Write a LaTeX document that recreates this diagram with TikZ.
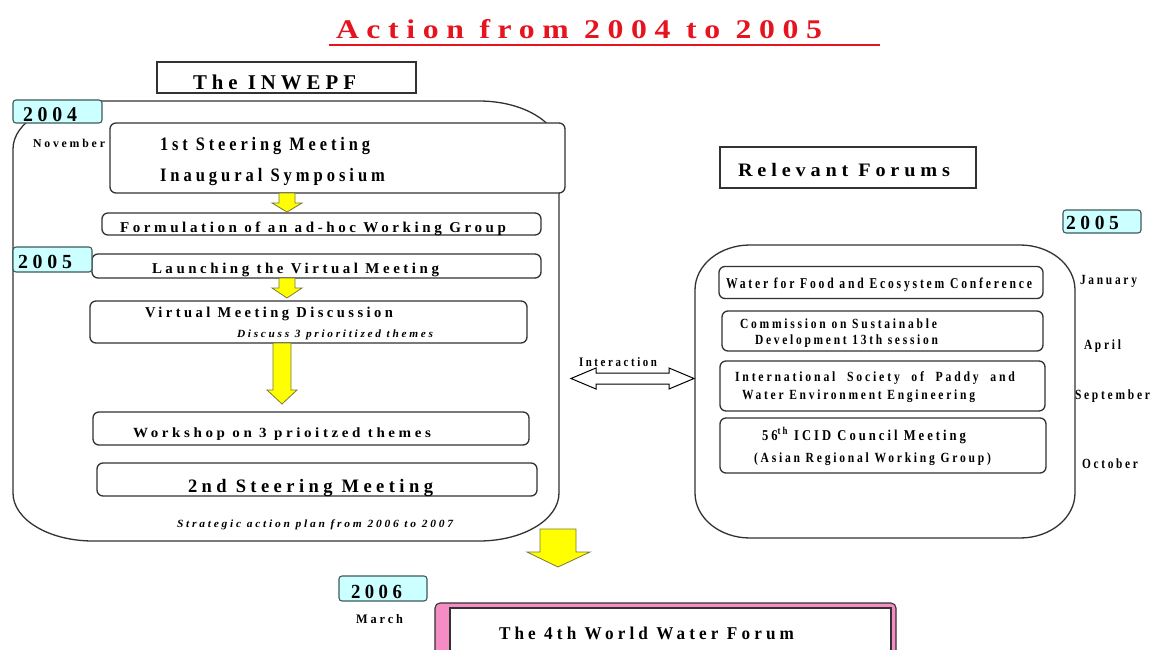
\documentclass[tikz,border=0pt]{standalone}
\usepackage{fontspec}
\usepackage{graphicx}
\setmainfont{Liberation Serif}
\newfontfamily\lsf{Liberation Serif}[LetterSpace=24]
\definecolor{lc}{RGB}{50,50,50}
\definecolor{tred}{RGB}{230,20,30}
\definecolor{cyl}{RGB}{204,255,255}
\definecolor{cyb}{RGB}{60,90,90}
\definecolor{yel}{RGB}{255,255,0}
\definecolor{yelb}{RGB}{120,120,60}
\definecolor{pinkf}{RGB}{245,140,195}
\newsavebox\fitbox
\makeatletter
\newcommand\fitw[2]{\sbox\fitbox{#2}\edef\fitratio{\strip@pt\dimexpr 1pt*\number\dimexpr#1pt\relax/\number\wd\fitbox\relax}\scalebox{\fitratio}[1]{\usebox\fitbox}}
\makeatother
\newcommand\tlab[6]{\node[tx,font=\lsf\bfseries\fontsize{#5}{#5}\selectfont] (#1) at (#2,#3) {\fitw{#4}{#6}};}
\begin{document}
\begin{tikzpicture}[x=1pt,y=-1pt,
  tx/.style={anchor=base west, inner sep=0pt, outer sep=0pt, text=black},
  rbox/.style={draw=lc, rounded corners=6pt, line width=1.3pt, fill=white, inner sep=0pt},
  sqbox/.style={draw=lc, line width=1.1pt, fill=white, inner sep=0pt},
  yrbox/.style={draw=cyb, fill=cyl, rounded corners=3pt, line width=1.1pt, inner sep=0pt},
  big/.style={draw=lc, line width=1.3pt},
  yarrow/.style={draw=yelb, fill=yel, line width=0.8pt, line join=miter},
  darrow/.style={draw=black, fill=white, line width=1pt, line join=miter}]
\useasboundingbox[fill=white] (0,0) rectangle (1157,650);

% title
\tlab{title}{336}{39}{486}{27}{\color{tred}Action from 2004 to 2005}
\draw[tred, line width=2.5pt] (329,45) -- (880,45);

% header boxes
\node[sqbox, minimum width=259pt, minimum height=31pt] (inw) at (286.5,77.5) {};
\tlab{tinw}{193}{90}{163}{21}{The INWEPF}
\node[sqbox, minimum width=256pt, minimum height=41pt] (rf) at (848,167.5) {};
\tlab{trf}{738}{177}{212}{19}{Relevant Forums}

% left big box
\draw[big] (93,101) -- (479,101) .. controls (523.2,101) and (559,122.5) .. (559,149)
  -- (559,493) .. controls (559,519.5) and (523.2,541) .. (479,541)
  -- (93,541) .. controls (48.8,541) and (13,519.5) .. (13,493)
  -- (13,149) .. controls (13,122.5) and (48.8,101) .. (93,101) -- cycle;

% right big box
\draw[big] (750,245) -- (1020,245) .. controls (1050.4,245) and (1075,265.1) .. (1075,290)
  -- (1075,493) .. controls (1075,517.9) and (1050.4,538) .. (1020,538)
  -- (750,538) .. controls (719.6,538) and (695,517.9) .. (695,493)
  -- (695,290) .. controls (695,265.1) and (719.6,245) .. (750,245) -- cycle;

% left inner boxes
\node[rbox, minimum width=455pt, minimum height=70pt] (b1) at (337.5,158) {};
\node[rbox, minimum width=439pt, minimum height=22pt] (b2) at (321.5,224) {};
\node[rbox, minimum width=449pt, minimum height=24pt] (b3) at (316.5,266) {};
\node[rbox, minimum width=437pt, minimum height=42pt] (b4) at (308.5,322) {};
\node[rbox, minimum width=436pt, minimum height=33pt] (b5) at (311,428.5) {};
\node[rbox, minimum width=440pt, minimum height=33pt] (b6) at (317,479.5) {};

% year labels
\node[yrbox, minimum width=89pt, minimum height=23pt] (y04) at (57.5,111.5) {};
\node[yrbox, minimum width=79pt, minimum height=25pt] (y05) at (52.5,259.5) {};
\node[yrbox, minimum width=78pt, minimum height=23pt] (y05r) at (1102,221.5) {};
\node[yrbox, minimum width=88pt, minimum height=25pt] (y06) at (383,588.5) {};

\tlab{t04}{23}{122}{54}{21}{2004}
\tlab{t05}{18}{268}{54}{20}{2005}
\tlab{t05r}{1066}{229}{53}{20}{2005}
\tlab{t06}{351}{598}{51}{20}{2006}

% left texts
\tlab{tnov}{33}{148}{72}{12}{November}
\tlab{t1a}{160}{150}{210}{19}{1st Steering Meeting}
\tlab{t1b}{160}{182}{225}{19}{Inaugural Symposium}
\tlab{t2}{120}{233}{386}{15}{Formulation of an ad-hoc Working Group}
\tlab{t3}{152}{273}{287}{15}{Launching the Virtual Meeting}
\tlab{t4a}{145}{317}{248}{15}{Virtual Meeting Discussion}
\tlab{t4b}{237}{337}{196}{11}{\itshape Discuss 3 prioritized themes}
\tlab{t5}{133}{437}{298}{14}{Workshop on 3 prioitzed themes}
\tlab{t6}{188}{492}{245}{19}{2nd Steering Meeting}
\tlab{t7}{177}{527}{276}{11}{\itshape Strategic action plan from 2006 to 2007}

% yellow arrows
\draw[yarrow] (279,193) -- (295,193) -- (295,203) -- (302,203) -- (287,212) -- (272,203) -- (279,203) -- cycle;
\draw[yarrow] (279,278) -- (295,278) -- (295,288) -- (302,288) -- (287,298) -- (272,288) -- (279,288) -- cycle;
\draw[yarrow] (273,343) -- (291,343) -- (291,390) -- (297,390) -- (282,404) -- (267,390) -- (273,390) -- cycle;
\draw[yarrow] (540,529) -- (576,529) -- (576,552) -- (590,552) -- (558,567) -- (527,552) -- (540,552) -- cycle;

% right inner boxes
\node[rbox, minimum width=324pt, minimum height=32pt] (r1) at (881,282.5) {};
\node[rbox, minimum width=321pt, minimum height=40pt] (r2) at (882.5,331) {};
\node[rbox, minimum width=325pt, minimum height=50pt] (r3) at (882.5,386) {};
\node[rbox, minimum width=326pt, minimum height=55pt] (r4) at (883,445.5) {};

\tlab{tr1}{726}{288}{306}{15}{Water for Food and Ecosystem Conference}
\tlab{tr2a}{740}{328}{197}{14}{Commission on Sustainable}
\tlab{tr2b}{755}{344}{183}{14}{Development 13th session}
\tlab{tr3a}{735}{381}{280}{14}{International\ \ Society\ \ of\ \ Paddy\ \ and}
\tlab{tr3b}{742}{399}{233}{14}{Water Environment Engineering}
\tlab{tr4a}{762}{440}{204}{15}{56\textsuperscript{th} ICID Council Meeting}
\tlab{tr4b}{754}{462}{237}{14}{(Asian Regional Working Group)}

% months
\tlab{tjan}{1080}{284}{57}{14}{January}
\tlab{tapr}{1084}{349}{37}{14}{April}
\tlab{tsep}{1075}{399}{75}{14}{September}
\tlab{toct}{1082}{468}{56}{14}{October}

% interaction
\tlab{tint}{579}{366}{78}{13}{Interaction}
\draw[darrow] (571,378.5) -- (596,368) -- (596,373) -- (669,373) -- (669,368) -- (694,378.5)
  -- (669,389) -- (669,384) -- (596,384) -- (596,389) -- cycle;

% 2006
\tlab{tmar}{356}{623}{47}{13}{March}
\node[draw=lc, fill=pinkf, rounded corners=5pt, line width=1.1pt, minimum width=461pt, minimum height=77pt, inner sep=0pt] (wwfo) at (665.5,641.5) {};
\node[draw=lc, fill=white, line width=1.1pt, minimum width=441pt, minimum height=72pt, inner sep=0pt] (wwfi) at (670.5,644) {};
\tlab{twwf}{499}{639}{295}{18}{The 4th World Water Forum}
\end{tikzpicture}
\end{document}
